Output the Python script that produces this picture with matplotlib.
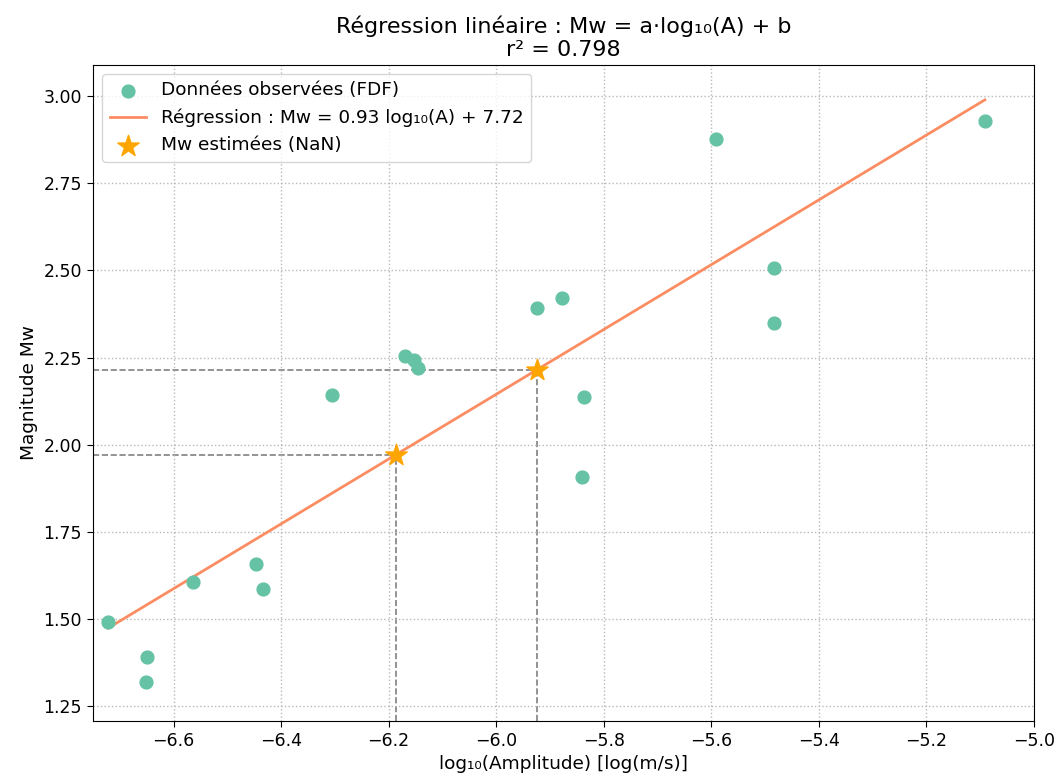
import numpy as np
import matplotlib
matplotlib.use("Agg")
import matplotlib.pyplot as plt

# observed data (FDF)
log_amp = [-6.722, -6.649, -6.651, -6.564, -6.447, -6.433, -6.305, -6.170, -6.153,
           -6.146, -5.924, -5.877, -5.837, -5.840, -5.592, -5.484, -5.484, -5.091]
mw_obs = [1.490, 1.389, 1.318, 1.606, 1.656, 1.585, 2.142, 2.254, 2.243,
          2.221, 2.391, 2.420, 2.136, 1.907, 2.878, 2.507, 2.349, 2.928]

# regression coefficients
coef_a = 0.93
coef_b = 7.7245
r2 = 0.798

# estimated (NaN) events
log_amp_est = [-6.186, -5.924]

x = np.array(log_amp)
y = np.array(mw_obs)
xe = np.array(log_amp_est)
ye = coef_a * xe + coef_b

fig = plt.figure(figsize=(10.56, 7.76), dpi=100)
ax = fig.add_axes([0.088, 0.0715, 0.891, 0.845])

ax.scatter(x, y, s=85, color="#66c2a5", zorder=3, label="Données observées (FDF)")
xl = np.array([x.min(), x.max()])
ax.plot(xl, coef_a * xl + coef_b, color="#fc8d62", lw=2.0, zorder=2,
        label=f"Régression : Mw = {coef_a:.2f} log₁₀(A) + {coef_b:.2f}")

xlim = (-6.75, -5.0)
ylim = (1.208, 3.0905)
for xi, yi in zip(xe, ye):
    ax.plot([xlim[0], xi], [yi, yi], ls="--", color="gray", lw=1.2, zorder=1)
    ax.plot([xi, xi], [ylim[0], yi], ls="--", color="gray", lw=1.2, zorder=1)
ax.scatter(xe, ye, marker="*", s=260, color="orange", zorder=4, label="Mw estimées (NaN)")

ax.set_xlim(*xlim)
ax.set_ylim(*ylim)
ax.set_xticks(np.arange(-6.6, -4.99, 0.2))
ax.set_yticks([1.25, 1.5, 1.75, 2.0, 2.25, 2.5, 2.75, 3.0])
ax.grid(True, ls=":", color="#b8b8b8", lw=1.0)
ax.tick_params(labelsize=12.5, length=4.5)
ax.set_xlabel("log₁₀(Amplitude) [log(m/s)]", fontsize=13.3)
ax.set_ylabel("Magnitude Mw", fontsize=13.3)
ax.set_title(f"Régression linéaire : Mw = a·log₁₀(A) + b\nr² = {r2:.3f}", fontsize=16)
ax.legend(loc="upper left", fontsize=13.3)

fig.savefig("out.png", dpi=100)
